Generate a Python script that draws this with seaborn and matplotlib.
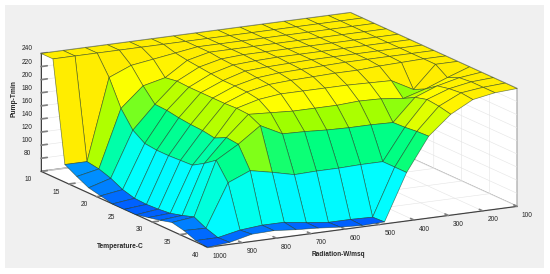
import numpy as np
import matplotlib
matplotlib.use("Agg")
import matplotlib.pyplot as plt
from matplotlib.colors import LinearSegmentedColormap, Normalize
from matplotlib.patches import Rectangle
import seaborn as sns

radiation = [1000, 935.7, 871.4, 807.1, 742.9, 678.6, 614.3, 550, 485.7, 421.4, 357.1, 292.9, 228.6, 164.3, 100]
temperature = [10, 12.14, 14.29, 16.43, 18.57, 20.71, 22.86, 25, 27.14, 29.29, 31.43, 33.57, 35.71, 37.86, 40]

# one row per temperature, left to right is radiation 1000 -> 100
pump = [
    [240, 240, 240, 240, 240, 240, 240, 240, 240, 240, 240, 240, 240, 240, 240],
    [240, 240, 240, 240, 240, 240, 240, 240, 240, 240, 240, 240, 240, 240, 240],
    [87, 87, 211, 225, 230, 235, 240, 240, 240, 240, 240, 240, 240, 240, 240],
    [77, 84, 172, 202, 210, 232, 240, 240, 240, 240, 240, 240, 240, 240, 240],
    [68, 78, 147, 182, 213, 230, 238, 240, 240, 240, 240, 240, 240, 240, 240],
    [64, 69, 135, 181, 212, 228, 237, 239, 240, 240, 240, 240, 240, 240, 240],
    [60, 64, 133, 178, 212, 226, 236, 238, 239, 240, 240, 240, 240, 240, 240],
    [60, 63, 133, 176, 212, 226, 234, 237, 238, 239, 240, 240, 240, 240, 240],
    [60, 64, 134, 175, 212, 225, 232, 234, 235, 236, 236, 238, 239, 240, 240],
    [64, 66, 135, 172, 213, 222, 226, 226, 226, 226, 225, 224, 206, 240, 240],
    [68, 71, 146, 181, 212, 210, 208, 208, 208, 210, 209, 205, 215, 228, 240],
    [73, 77, 159, 179, 203, 186, 185, 183, 182, 182, 181, 215, 228, 236, 240],
    [69, 68, 133, 147, 140, 132, 133, 133, 134, 134, 182, 220, 232, 238, 240],
    [62, 62, 69, 72, 72, 67, 63, 63, 62, 134, 184, 218, 234, 238, 240],
    [60, 63, 71, 72, 69, 67, 64, 62, 63, 134, 185, 214, 232, 238, 240],
]

radiation_ticks = [100, 200, 300, 400, 500, 600, 700, 800, 900, 1000]
temperature_ticks = [10, 15, 20, 25, 30, 35, 40]
pump_ticks = [80, 100, 120, 140, 160, 180, 200, 220, 240]

sns.set_theme(style="white")
plt.rcParams["font.family"] = ["Liberation Sans", "DejaVu Sans"]

fig = plt.figure(figsize=(5.5, 2.74), dpi=100)
fig.add_artist(Rectangle((5 / 550, 6 / 274), 539 / 550, 263 / 274, transform=fig.transFigure,
                         facecolor="#f0f0f0", edgecolor="none", zorder=-5))

side = 560
ax = fig.add_axes([(271.5 - side / 2) / 550, (274 - 137.5 - side / 2) / 274, side / 550, side / 274],
                  projection="3d", proj_type="ortho")
ax.patch.set_alpha(0)
ax.view_init(elev=14.2, azim=61.7)
ax.set_box_aspect((1, 1, 0.346), zoom=0.887)

cmap = LinearSegmentedColormap.from_list("pump", [
    (0.0, (0.0, 0.35, 1.0)),
    (75 / 180, (0.0, 1.0, 1.0)),
    (100 / 180, (0.0, 1.0, 0.85)),
    (123 / 180, (0.0, 1.0, 0.5)),
    (148 / 180, (0.62, 1.0, 0.0)),
    (166 / 180, (1.0, 1.0, 0.0)),
    (1.0, (1.0, 0.93, 0.0)),
])

R, T = np.meshgrid(radiation, temperature)
Z = np.array(pump, dtype=float)

# each cell takes its colour from its corner with lower radiation and lower temperature
corner = Z.copy()
corner[:, :-1] = Z[:, 1:]
colors = cmap(Normalize(60, 240)(corner))

ax.plot_surface(R, T, Z, facecolors=colors, shade=False, rstride=1, cstride=1,
                edgecolor=(0.1, 0.2, 0.1, 0.6), linewidth=0.5, antialiased=True)

ax.set_xlim(100, 1000)
ax.set_ylim(10, 40)
ax.set_zlim(60, 240)
ax.set_xticks(radiation_ticks)
ax.set_yticks(temperature_ticks)
ax.set_zticks(pump_ticks)

for axis in [ax.xaxis, ax.yaxis, ax.zaxis]:
    axis.set_pane_color((1, 1, 1, 1))
    axis.pane.set_edgecolor("#a0a0a0")
    axis._axinfo["grid"].update(color="#e4e4e4", linewidth=0.4)
    axis._axinfo["tick"].update(inward_factor=0.0, outward_factor=0.25)
    axis._axinfo["axisline"]["color"] = "#808080"
    axis.line.set_linewidth(0.6)

ax.tick_params(labelsize=4.8, pad=-2, labelcolor="#262626", color="#808080", width=0.4)

for label in ax.get_xticklabels():
    label.set_ha("left")
for label in ax.get_yticklabels():
    label.set_ha("right")
for label in ax.get_zticklabels():
    label.set_va("bottom")

fig.text(14 / 550, 1 - 99 / 274, "Pump-Tmin", rotation=90, fontsize=4.8, ha="center", va="center",
         color="#262626", fontweight="bold")
fig.text(120 / 550, 1 - 246 / 274, "Temperature-C", fontsize=4.8, ha="center", va="center",
         color="#262626", fontweight="bold")
fig.text(338 / 550, 1 - 255 / 274, "Radiation-W/msq", fontsize=4.7, ha="center", va="center",
         color="#262626", fontweight="bold")

fig.savefig("out.png", dpi=100)
